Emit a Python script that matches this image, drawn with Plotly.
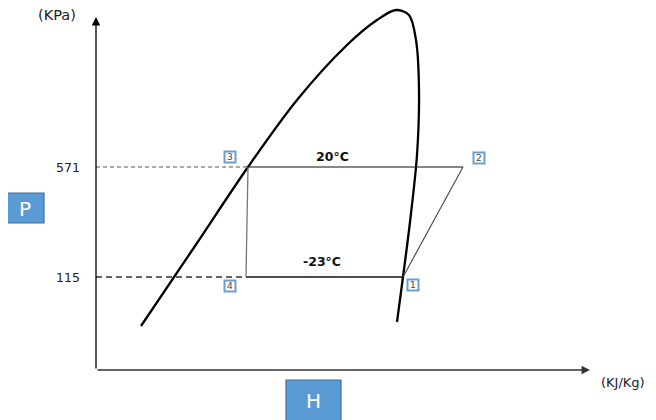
import plotly.graph_objects as go

# Saturation dome (schematic, diagram units: x to the right, y downward like the page)
dome_h = [141, 195, 248, 297, 347, 377, 396, 409, 416, 419, 417, 410, 403, 397]
dome_p = [326, 246, 167, 100, 45, 20, 10, 15, 40, 90, 155, 222, 277, 322]

# Refrigeration cycle state points 1..4
state_names = ["1", "2", "3", "4"]
state_h = [403, 463, 248, 246]
state_p = [277, 167, 167, 277]
label_h = [413, 479, 230, 230]
label_p = [285, 158, 157, 286]

# pressure levels
p_labels = ["571", "115"]
p_levels = [167, 277]
temps = ["20°C", "-23°C"]
temp_h = [332, 322]
temp_p = [156, 261]

origin = (96, 370)
x_tip = 590
y_tip = 17

fig = go.Figure()

# dome
fig.add_trace(go.Scatter(x=dome_h, y=dome_p, mode="lines",
                         line=dict(color="black", width=2.3, shape="spline", smoothing=0.9),
                         hoverinfo="skip"))

# cycle lines
h1, h2, h3, h4 = state_h
p1, p2, p3, p4 = state_p
fig.add_trace(go.Scatter(x=[h3, h2], y=[p3, p2], mode="lines",
                         line=dict(color="#111111", width=1.2), hoverinfo="skip"))
fig.add_trace(go.Scatter(x=[h2, h1], y=[p2, p1], mode="lines",
                         line=dict(color="#444444", width=1.1), hoverinfo="skip"))
fig.add_trace(go.Scatter(x=[h4, h1], y=[p4, p1], mode="lines",
                         line=dict(color="#111111", width=1.3), hoverinfo="skip"))
fig.add_trace(go.Scatter(x=[h3, h4], y=[p3, p4], mode="lines",
                         line=dict(color="#777777", width=1.3), hoverinfo="skip"))

# dashed pressure guides
fig.add_trace(go.Scatter(x=[origin[0], h3], y=[p3, p3], mode="lines",
                         line=dict(color="#555555", width=1, dash="4px,3px"), hoverinfo="skip"))
fig.add_trace(go.Scatter(x=[origin[0], h4], y=[p4, p4], mode="lines",
                         line=dict(color="#333333", width=1.3, dash="6px,4px"), hoverinfo="skip"))

# axes with arrows
fig.add_annotation(x=origin[0], y=y_tip, ax=origin[0], ay=origin[1],
                   xref="x", yref="y", axref="x", ayref="y", text="",
                   showarrow=True, arrowhead=2, arrowsize=1.3, arrowwidth=1.3, arrowcolor="black")
fig.add_annotation(x=x_tip, y=origin[1], ax=origin[0], ay=origin[1],
                   xref="x", yref="y", axref="x", ayref="y", text="",
                   showarrow=True, arrowhead=2, arrowsize=1.3, arrowwidth=1.3, arrowcolor="#333333")

fnt = "DejaVu Sans"
fig.add_annotation(x=57, y=15, text="(KPa)", showarrow=False,
                   font=dict(family=fnt, size=14.5, color="#222222"))
fig.add_annotation(x=647, y=382, text="(KJ/Kg)", showarrow=False, xanchor="right",
                   font=dict(family=fnt, size=13, color="#222222"))
for lab, pv in zip(p_labels, p_levels):
    fig.add_annotation(x=82, y=pv, text=lab, showarrow=False, xanchor="right",
                       font=dict(family=fnt, size=12.5, color="#222222"))
for t, tx, ty in zip(temps, temp_h, temp_p):
    fig.add_annotation(x=tx, y=ty, text="<b>" + t + "</b>", showarrow=False,
                       font=dict(family=fnt, size=12.5, color="#111111"))

# numbered state boxes
for name, lx, ly in zip(state_names, label_h, label_p):
    fig.add_shape(type="rect", x0=lx - 5.5, x1=lx + 5.5, y0=ly - 5.5, y1=ly + 5.5,
                  line=dict(color="#6a9fd0", width=2), fillcolor="white", layer="above")
    fig.add_annotation(x=lx, y=ly, text=name, showarrow=False,
                       font=dict(family=fnt, size=9, color="#444444"))

# P and H boxes
for lab, x0, x1, y0, y1 in [("P", 5, 44, 193, 223), ("H", 286, 341, 380, 425)]:
    fig.add_shape(type="rect", x0=x0, x1=x1, y0=y0, y1=y1,
                  line=dict(color="#41719c", width=1.2), fillcolor="#5b9bd5")
    fig.add_annotation(x=(x0 + x1) / 2, y=(y0 + y1) / 2 + 1 if lab == "P" else 401,
                       text=lab, showarrow=False,
                       font=dict(family=fnt, size=20, color="white"))

# the page body adds an 8px margin, so the plot area starts at page pixel 8
fig.update_xaxes(range=[8, 656], visible=False, fixedrange=True)
fig.update_yaxes(range=[420, 8], visible=False, fixedrange=True)
fig.update_layout(width=648, height=412, margin=dict(l=0, r=0, t=0, b=0),
                  plot_bgcolor="white", paper_bgcolor="white", showlegend=False)

fig.write_html("out.html")
